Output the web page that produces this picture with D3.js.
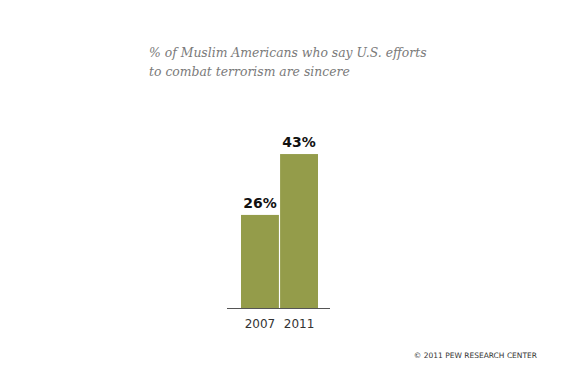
<!DOCTYPE html>
<html>
<head>
<meta charset="utf-8">
<script src="https://cdn.jsdelivr.net/npm/d3@7"></script>
<style>
  body { margin: 0; background: #fff; }
</style>
</head>
<body>
<div id="chart"></div>
<script>
var years = ["2007", "2011"];
var values = [26, 43];
var titleLines = ["% of Muslim Americans who say U.S. efforts", "to combat terrorism are sincere"];

var width = 575, height = 375;
var baseY = 308;

var svg = d3.select("#chart").append("svg")
  .attr("width", width)
  .attr("height", height);

var x = d3.scaleBand()
  .domain(years)
  .range([241, 318])
  .paddingInner(0.03);

var y = d3.scaleLinear()
  .domain([0, 100])
  .range([baseY, baseY - 358]);

// title
svg.append("g").selectAll("text")
  .data(titleLines)
  .enter().append("text")
  .attr("x", 149)
  .attr("y", function (d, i) { return 57 + i * 19; })
  .style("font-family", "'DejaVu Serif', Georgia, serif")
  .style("font-style", "italic")
  .style("font-size", "12.4px")
  .style("fill", "#7a7a7a")
  .text(function (d) { return d; });

svg.append("g").selectAll("rect")
  .data(values)
  .enter().append("rect")
  .attr("x", function (d, i) { return x(years[i]); })
  .attr("y", function (d) { return y(d); })
  .attr("width", x.bandwidth())
  .attr("height", function (d) { return baseY - y(d); })
  .style("fill", "#949c4a");

// baseline
svg.append("line")
  .attr("x1", 227).attr("x2", 330)
  .attr("y1", baseY + 0.5).attr("y2", baseY + 0.5)
  .style("stroke", "#555")
  .style("stroke-width", 1);

// value labels
svg.append("g").selectAll("text")
  .data(values)
  .enter().append("text")
  .attr("x", function (d, i) { return x(years[i]) + x.bandwidth() / 2; })
  .attr("y", function (d) { return y(d) - 7; })
  .attr("text-anchor", "middle")
  .style("font-family", "'DejaVu Sans', Verdana, sans-serif")
  .style("font-weight", "bold")
  .style("font-size", "14px")
  .style("fill", "#111")
  .text(function (d) { return d + "%"; });

// year labels
svg.append("g").selectAll("text")
  .data(years)
  .enter().append("text")
  .attr("x", function (d) { return x(d) + x.bandwidth() / 2; })
  .attr("y", 328)
  .attr("text-anchor", "middle")
  .style("font-family", "'DejaVu Sans', Verdana, sans-serif")
  .style("font-size", "12px")
  .style("fill", "#333")
  .text(function (d) { return d; });

svg.append("text")
  .attr("x", 537)
  .attr("y", 358)
  .attr("text-anchor", "end")
  .style("font-family", "'DejaVu Sans', Verdana, sans-serif")
  .style("font-size", "7.5px")
  .style("fill", "#333")
  .text("\u00a9 2011 PEW RESEARCH CENTER");
</script>
</body>
</html>
